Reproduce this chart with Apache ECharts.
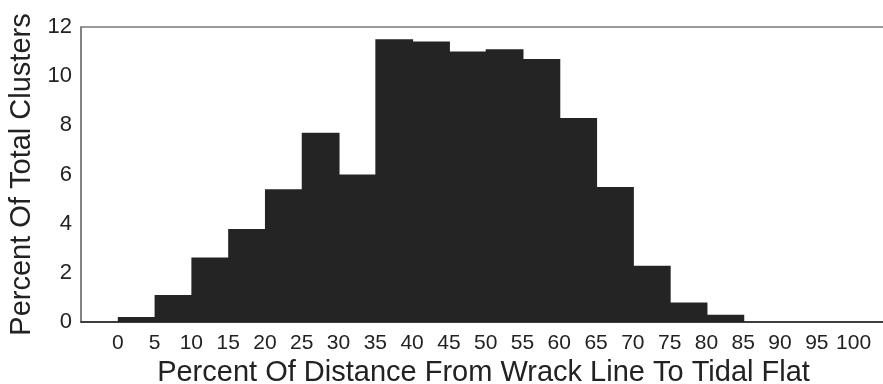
<!DOCTYPE html>
<html><head><meta charset="utf-8">
<script src="https://cdn.jsdelivr.net/npm/echarts@6/dist/echarts.min.js"></script>
<style>html,body{margin:0;padding:0;background:#fff}#c{width:883px;height:384px}</style>
</head><body><div id="c"></div>
<script>
// Bin edges (percent of distance) and bin heights (percent of total clusters)
const binStarts = [0,5,10,15,20,25,30,35,40,45,50,55,60,65,70,75,80,85,90,95];
const binWidth = 5;
const percents = [0.2,1.1,2.62,3.78,5.4,7.7,6.0,11.5,11.41,11.0,11.09,10.7,8.3,5.49,2.29,0.79,0.3,0,0,0];
const xTickLabels = [0,5,10,15,20,25,30,35,40,45,50,55,60,65,70,75,80,85,90,95,100];
const yTicks = [0,2,4,6,8,10,12];

const data = binStarts.map((s,i)=>[s, s+binWidth, percents[i]]);
const chart = echarts.init(document.getElementById('c'));
const font = '"Liberation Sans", Arial, Helvetica, sans-serif';
chart.setOption({
  animation:false,
  grid:{left:81,right:-3,top:27,bottom:62,outerBoundsMode:'none',containLabel:false,show:true,borderColor:'#7a7a7a',borderWidth:1.5,backgroundColor:'transparent'},
  xAxis:{type:'value',min:-5,max:104.4,interval:5,
    name:'Percent Of Distance From Wrack Line To Tidal Flat',nameLocation:'middle',nameGap:26,
    nameTextStyle:{fontFamily:font,fontSize:29,color:'#222'},
    axisLine:{show:true,onZero:false,lineStyle:{color:'#222',width:1.5}},axisTick:{show:false},splitLine:{show:false},
    axisLabel:{fontFamily:font,fontSize:21,color:'#222',margin:11,showMaxLabel:false,
      formatter:v=>xTickLabels.indexOf(Math.round(v))>=0 && Math.abs(v-Math.round(v))<1e-6 ? String(Math.round(v)) : ''}},
  yAxis:{type:'value',min:yTicks[0],max:yTicks[yTicks.length-1],interval:2,
    name:'Percent Of Total Clusters',nameLocation:'middle',nameGap:44,
    nameTextStyle:{fontFamily:font,fontSize:29,color:'#222'},
    axisLine:{show:true,onZero:false,lineStyle:{color:'#7a7a7a',width:1.5}},axisTick:{show:false},splitLine:{show:false},
    axisLabel:{fontFamily:font,fontSize:22,color:'#222',margin:9}},
  series:[{type:'custom',data:data,
    renderItem:(params,api)=>{
      if(api.value(2)<=0) return null;
      const p0=api.coord([api.value(0),api.value(2)]);
      const p1=api.coord([api.value(1),0]);
      return {type:'rect',shape:{x:p0[0],y:p0[1],width:p1[0]-p0[0]+1,height:p1[1]-p0[1]},
        style:{fill:'#242424'}};
    },
    encode:{x:[0,1],y:2}}]
});
</script></body></html>
